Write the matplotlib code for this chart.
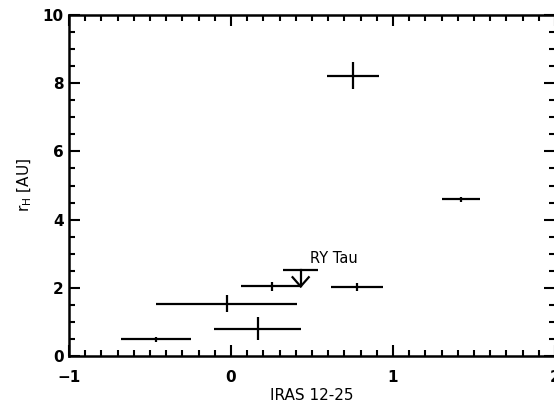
import matplotlib
matplotlib.use("Agg")
import matplotlib.pyplot as plt
from matplotlib.ticker import MultipleLocator

# data
x_vals = [0.755, 1.42, 0.78, 0.25, -0.025, 0.165, -0.465]
y_vals = [8.22, 4.60, 2.03, 2.04, 1.53, 0.80, 0.49]
x_err = [0.16, 0.12, 0.16, 0.19, 0.435, 0.27, 0.217]
y_err = [0.40, 0.07, 0.12, 0.12, 0.25, 0.34, 0.07]

# RY Tau upper limit
ry_x = 0.43
ry_y = 2.52
ry_xerr = 0.107
ry_arrow = 0.48
ry_label = "RY Tau"

plt.rcParams['font.family'] = ['DejaVu Sans']

fig = plt.figure(figsize=(5.54, 4.05), dpi=100)
ax = fig.add_axes([69/554, 49/405, 486/554, 341/405])

ax.errorbar(x_vals, y_vals, xerr=x_err, yerr=y_err, fmt='none', ecolor='black',
            elinewidth=1.6, capsize=0)
ax.errorbar([ry_x], [ry_y], xerr=[ry_xerr], fmt='none', ecolor='black', elinewidth=1.6, capsize=0)
# downward arrow (shaft + open V head)
tip = ry_y - ry_arrow
head_dx, head_dy = 0.05, 0.27
ax.plot([ry_x, ry_x], [ry_y, tip], color='black', lw=1.6)
ax.plot([ry_x - head_dx, ry_x, ry_x + head_dx], [tip + head_dy, tip, tip + head_dy],
        color='black', lw=1.6, solid_joinstyle='miter')
ax.text(0.49, 2.73, ry_label, fontsize=10.5, ha='left', va='baseline')

ax.set_xlim(-1, 2)
ax.set_ylim(0, 10)
ax.xaxis.set_major_locator(MultipleLocator(1))
ax.xaxis.set_minor_locator(MultipleLocator(0.1))
ax.yaxis.set_major_locator(MultipleLocator(2))
ax.yaxis.set_minor_locator(MultipleLocator(0.5))
ax.tick_params(which='both', direction='in', top=True, right=True, width=1.5, labelsize=11)
ax.tick_params(which='major', length=8)
ax.tick_params(axis='x', which='major', pad=10)
ax.tick_params(axis='y', which='major', pad=4)
ax.tick_params(which='minor', length=4)
for lbl in ax.get_xticklabels() + ax.get_yticklabels():
    lbl.set_fontweight('bold')
for s in ax.spines.values():
    s.set_linewidth(1.8)

ax.set_xlabel('IRAS 12-25', fontsize=11, labelpad=2)
ax.set_ylabel(r'r$_{\rm H}$ [AU]', fontsize=11, labelpad=6)

fig.savefig('out.png', dpi=100)
